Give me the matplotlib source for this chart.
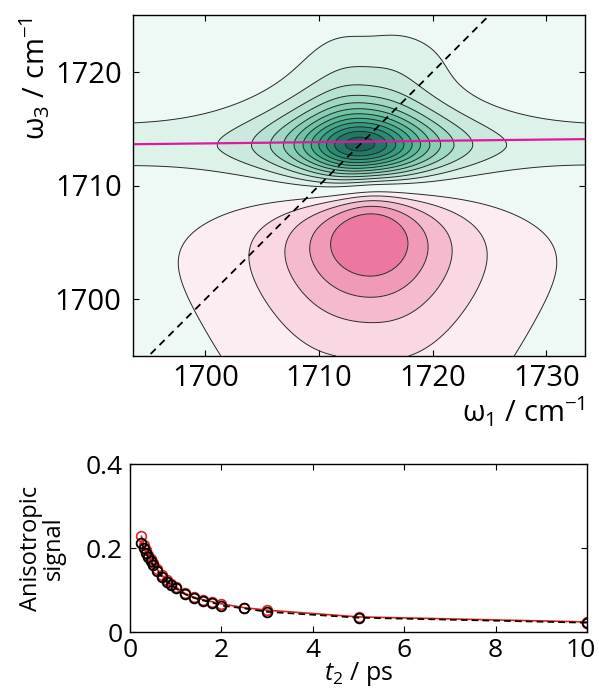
import numpy as np
import matplotlib
matplotlib.use('Agg')
import matplotlib.pyplot as plt
import matplotlib.transforms as mtransforms

plt.rcParams['font.family'] = ['Open Sans', 'DejaVu Sans']
plt.rcParams['mathtext.fontset'] = 'custom'
plt.rcParams['mathtext.rm'] = 'Open Sans'
plt.rcParams['mathtext.it'] = 'Open Sans:italic'

# ---------------- 2D IR spectrum (peak parameters) ----------------
w1_range = [1693.6, 1733.4]
w3_range = [1695.0, 1725.0]
# bleach (positive, green) peak
pos_amp = 16.23
pos_center = [1713.885, 1713.368]      # (w1, w3)
pos_width = [3.739, 3.508]             # sech width in w1, Lorentz width in w3
ridge_amp = 1.444
ridge_width = 2.55
shoulder_amp = 0.8
shoulder_center = [1716.5, 1721.5]
shoulder_width = [5.0, 2.5]
# excited-state (negative, pink) peak
neg_amp = 9.539
neg_center = [1714.226, 1707.32]
neg_width = [5.674, 6.815]
neg_width_below = 7.63
neg_flare = 0.49
contour_levels = [-5, -4, -3, -2, -1, 1, 2, 3, 4, 5, 6, 7, 8, 9, 10, 11, 12]
# centre line and diagonal
cl_w1 = [1693.6, 1733.4]
cl_w3 = [1713.63, 1714.08]
diag_w = [1693.6, 1725.0]

# ---------------- anisotropy decay ----------------
t2 = [0.25, 0.3, 0.35, 0.4, 0.45, 0.5, 0.6, 0.7, 0.8, 0.9, 1.0, 1.2, 1.4, 1.6, 1.8, 2.0, 2.5, 3.0, 5.0, 10.0]
aniso_black = [0.211, 0.200, 0.188, 0.178, 0.168, 0.160, 0.145, 0.131, 0.120, 0.112, 0.104, 0.090, 0.081,
               0.075, 0.070, 0.063, 0.056, 0.048, 0.034, 0.022]
aniso_red = [0.228, 0.208, 0.195, 0.184, 0.174, 0.164, 0.149, 0.135, 0.124, 0.115, 0.107, 0.092, 0.083,
             0.077, 0.072, 0.067, 0.058, 0.052, 0.036, 0.024]

# ---------------- field ----------------
w1 = np.linspace(w1_range[0], w1_range[1], 400)
w3 = np.linspace(w3_range[0], w3_range[1], 300)
X, Y = np.meshgrid(w1, w3)
P = pos_amp / np.cosh((X - pos_center[0]) / pos_width[0]) / (1 + ((Y - pos_center[1]) / pos_width[1])**2)
P += ridge_amp / np.cosh((Y - pos_center[1]) / ridge_width)
P += shoulder_amp * np.exp(-((X - shoulder_center[0])**2 / (2 * shoulder_width[0]**2)
                             + (Y - shoulder_center[1])**2 / (2 * shoulder_width[1]**2)))
Yh = np.minimum(Y, pos_center[1])
gx = neg_width[0] * np.exp(np.clip(neg_flare * (neg_center[1] - Yh) / 10.0, -2, 2))
gy = np.where(Y < neg_center[1], neg_width_below, neg_width[1])
N = neg_amp / (1 + ((X - neg_center[0]) / gx)**2) / (1 + ((Y - neg_center[1]) / gy)**2)
Z = P - N

fig = plt.figure(figsize=(5.99, 6.93), dpi=100)

# ---------------- top panel ----------------
ax = fig.add_axes([132.7/599, 1-356/693, (585-132.7)/599, (356-15)/693])
fill_levels = [-100] + contour_levels + [100]
cols = ['#ec77a1', '#f19ab8', '#f5bace', '#f9d8e3', '#fcedf2', '#eef8f4',
        '#ddf2e9', '#cbeadd', '#b6e2d1', '#9fd8c3', '#87ceb4', '#6fc4a6', '#58b898',
        '#44ab8a', '#349d7e', '#298b72', '#217865', '#1b6558']
ax.contourf(X, Y, Z, levels=fill_levels, colors=cols)
ax.contour(X, Y, Z, levels=contour_levels, colors='#2a2a2a', linewidths=0.7,
           negative_linestyles='solid')
ax.plot(diag_w, diag_w, color='k', lw=1.3, linestyle=(0, (4, 3)))
ax.plot(cl_w1, cl_w3, color='#e0189e', lw=1.6)
ax.set_xlim(w1_range); ax.set_ylim(w3_range)
ax.set_xticks([1700, 1710, 1720, 1730]); ax.set_yticks([1700, 1710, 1720])
ax.tick_params(direction='in', top=True, right=True, length=4, width=0.8, labelsize=21)
ax.tick_params(axis='x', pad=6); ax.tick_params(axis='y', pad=8)
for s in ax.spines.values():
    s.set_linewidth(1.0)
ax.set_xlabel('ω$_1$ / cm$^{-1}$', fontsize=21, loc='right', labelpad=1)
ax.set_ylabel('ω$_3$ / cm$^{-1}$', fontsize=21, loc='top')
ax.yaxis.set_label_coords(-0.178, 0.995)

# ---------------- bottom panel ----------------
bx = fig.add_axes([130/599, 1-632/693, 457/599, 168/693])
red = '#e3211c'
bx.plot(t2, aniso_red, '-', color=red, lw=1.2)
bx.plot(t2, aniso_red, 'o', mfc='none', mec=red, ms=7, mew=1.2)
bx.plot(t2, aniso_black, color='k', lw=1.2, linestyle=(0, (4, 2.5)))
bx.plot(t2, aniso_black, 'o', mfc='none', mec='k', ms=7, mew=1.3)
bx.set_xlim(0, 10); bx.set_ylim(0, 0.4)
bx.set_xticks([0, 2, 4, 6, 8, 10]); bx.set_yticks([0, 0.2, 0.4])
bx.set_yticklabels(['0', '0.2', '0.4'])
bx.tick_params(direction='in', top=True, right=True, length=4, width=0.8, labelsize=19)
bx.tick_params(axis='x', pad=4); bx.tick_params(axis='y', pad=5)
for s in bx.spines.values():
    s.set_linewidth(1.0)
bx.set_xlabel('$t_2$ / ps', fontsize=18, labelpad=-2)
bx.set_ylabel('Anisotropic\nsignal', fontsize=17, linespacing=0.95)
bx.yaxis.set_label_coords(-0.14, 0.5)
# keep the last tick label inside the figure
last = bx.get_xticklabels()[-1]
last.set_transform(last.get_transform() + mtransforms.ScaledTranslation(-6/100, 0, fig.dpi_scale_trans))

fig.savefig('out.png', dpi=100)
